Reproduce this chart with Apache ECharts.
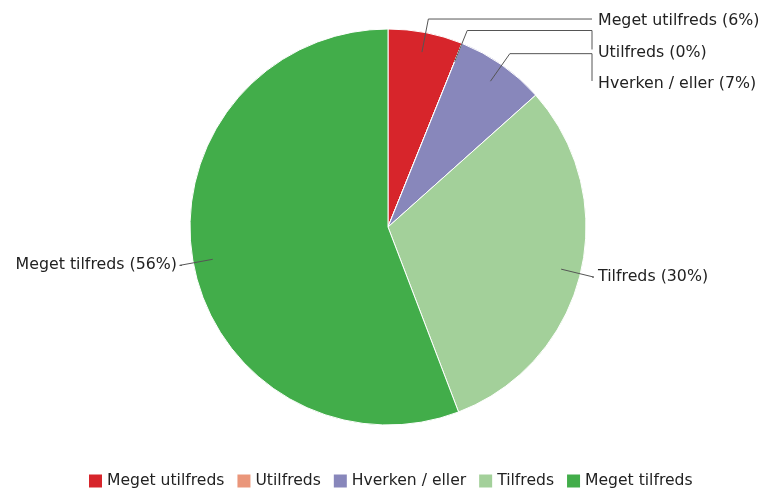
<!DOCTYPE html>
<html>
<head>
<meta charset="utf-8">
<script src="https://cdn.jsdelivr.net/npm/echarts@6/dist/echarts.min.js"></script>
<style>
  html, body { margin: 0; padding: 0; background: #fff; }
  #chart { width: 766px; height: 488px; }
</style>
</head>
<body>
<div id="chart"></div>
<script>
// data
var categories = ['Meget utilfreds', 'Utilfreds', 'Hverken / eller', 'Tilfreds', 'Meget tilfreds']
var values = [6.1, 0, 7.3, 30.8, 55.8]
var pctLabels = [6, 0, 7, 30, 56]
var colors = ['#d7252b', '#ea967a', '#8887bb', '#a3d09a', '#42ad4a']

// layout
var cx = 388
var cy = 227
var R = 198

// precompute label positions from slice mid angles
var total = values.reduce(function (a, b) { return a + b }, 0)
var labelInfo = []
var acc = 0
values.forEach(function (v, i) {
  var mid = ((acc + v / 2) / total) * Math.PI * 2
  acc += v
  var dx = Math.sin(mid)
  var dy = -Math.cos(mid)
  labelInfo.push({
    right: dx >= 0,
    dy: dy,
    p0: [cx + dx * R * 0.9, cy + dy * R * 0.9],
    p1: [cx + dx * R * 1.07, cy + dy * R * 1.07],
  })
})
// push overlapping labels down
;[true, false].forEach(function (side) {
  var list = labelInfo.filter(function (d) { return d.right === side })
  list.sort(function (a, b) { return a.p1[1] - b.p1[1] })
  var prev = -Infinity
  list.forEach(function (d) {
    var y = d.p1[1] - 2 * d.dy
    if (y < prev + 31.5) {
      y = prev + 31.5
      d.shifted = true
    }
    d.y = y
    prev = y
  })
})

var pieData = categories.map(function (c, i) {
  return { name: c, value: values[i] }
})

var chart = echarts.init(document.getElementById('chart'))
chart.setOption({
  animation: false,
  color: colors,
  legend: {
    left: 84,
    top: 468,
    icon: 'rect',
    itemWidth: 13,
    itemHeight: 13,
    itemGap: 13,
    selectedMode: false,
    textStyle: { fontFamily: 'DejaVu Sans', fontSize: 15.6, color: '#222' },
    data: categories.map(function (c, i) {
      return { name: c, itemStyle: { color: colors[i], borderWidth: 0 } }
    }),
  },
  series: [
    {
      type: 'pie',
      center: [cx, cy],
      radius: R,
      startAngle: 90,
      clockwise: true,
      itemStyle: { borderColor: '#fff', borderWidth: 1 },
      emphasis: { disabled: true },
      label: { show: false },
      labelLine: { show: false },
      data: pieData,
    },
    {
      // transparent copy on top, only carries labels and their lines
      type: 'pie',
      z: 5,
      silent: true,
      legendHoverLink: false,
      center: [cx, cy],
      radius: R,
      startAngle: 90,
      clockwise: true,
      avoidLabelOverlap: false,
      itemStyle: { color: 'rgba(0,0,0,0)', borderWidth: 0 },
      emphasis: { disabled: true },
      label: {
        show: true,
        position: 'outside',
        fontFamily: 'DejaVu Sans',
        fontSize: 15.8,
        color: '#222',
        formatter: function (p) {
          return p.name + ' (' + pctLabels[p.dataIndex] + '%)'
        },
      },
      labelLine: {
        show: true,
        length: 10,
        length2: 10,
        lineStyle: { color: '#555', width: 1 },
      },
      labelLayout: function (params) {
        var d = labelInfo[params.dataIndex]
        var xh = d.right ? cx + 204 : cx - 206
        var pts = [d.p0, d.p1, [xh, d.p1[1]]]
        if (d.shifted) pts.push([xh, d.y - 3])
        return {
          x: d.right ? cx + 210 : cx - 211,
          y: d.y,
          align: d.right ? 'left' : 'right',
          verticalAlign: 'middle',
          labelLinePoints: pts,
        }
      },
      data: pieData,
    },
  ],
})
</script>
</body>
</html>
